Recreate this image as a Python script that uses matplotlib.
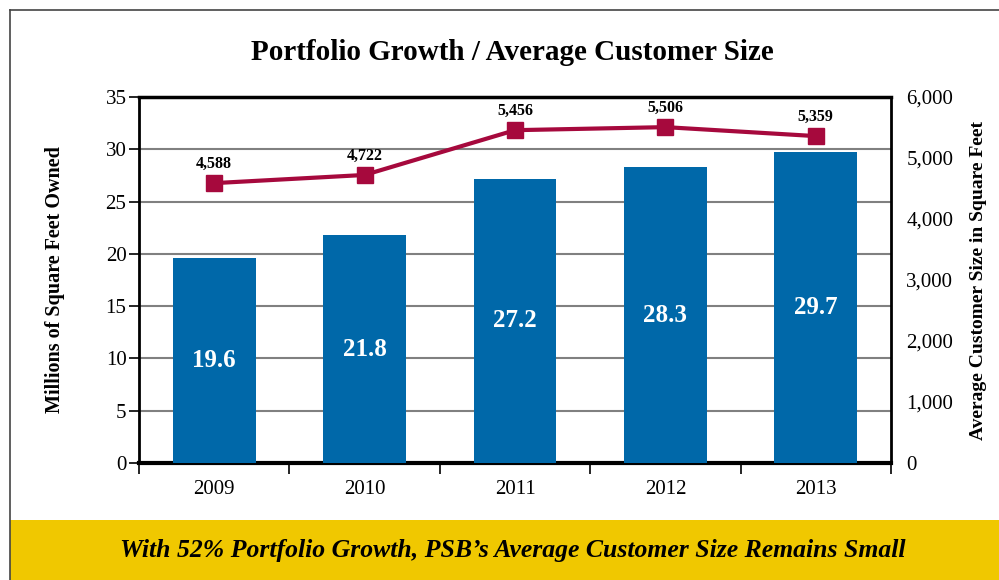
import matplotlib
matplotlib.use("Agg")
import matplotlib.pyplot as plt
from matplotlib.patches import Rectangle
from matplotlib.lines import Line2D

years = ["2009", "2010", "2011", "2012", "2013"]
sqft_owned = [19.6, 21.8, 27.2, 28.3, 29.7]          # millions of sq ft
avg_customer = [4588, 4722, 5456, 5506, 5359]       # sq ft
left_ticks = [0, 5, 10, 15, 20, 25, 30, 35]
right_ticks = [0, 1000, 2000, 3000, 4000, 5000, 6000]

plt.rcParams['font.family'] = ['Liberation Serif', 'DejaVu Serif']

bar_col = '#0068a9'
line_col = '#a6093d'

fig = plt.figure(figsize=(9.99, 5.80), dpi=100)
W, H = 999.0, 580.0

# frame and banner
fig.add_artist(Line2D([10/W, 10/W], [0, 1 - 10/H], color='#444444', lw=1.2))
fig.add_artist(Line2D([10/W, 1], [1 - 10/H, 1 - 10/H], color='#444444', lw=1.2))
fig.add_artist(Rectangle((10/W, 0), 1 - 10/W, 60/H, color='#f0c800', lw=0))
fig.text(513/W, 30/H, "With 52% Portfolio Growth, PSB\u2019s Average Customer Size Remains Small",
         ha='center', va='center', fontsize=18.5, fontweight='bold', fontstyle='italic')
fig.text(512/W, 1 - 53/H, "Portfolio Growth / Average Customer Size",
         ha='center', va='center', fontsize=21, fontweight='bold')

ax = fig.add_axes([139/W, 117/H, 752/W, 366/H])
x = range(len(years))
bars = ax.bar(x, sqft_owned, width=0.55, color=bar_col, zorder=3)
for i, v in enumerate(sqft_owned):
    ax.text(i, v / 2, "%.1f" % v, ha='center', va='center', color='white',
            fontsize=18, fontweight='bold', zorder=4)

ax.set_xlim(-0.5, 4.5)
ax.set_ylim(0, 35)
ax.set_yticks(left_ticks)
ax.yaxis.grid(True, color='#808080', lw=1.5, zorder=0)
ax.set_xticks(list(x))
ax.set_xticklabels(years)
ax.set_xticks([i - 0.5 for i in range(len(years) + 1)], minor=True)
ax.tick_params(axis='x', which='major', length=0, pad=12, labelsize=15)
ax.tick_params(axis='x', which='minor', length=8, width=1.2, direction='out')
ax.tick_params(axis='y', length=7, width=1.2, direction='out', labelsize=15, pad=2,
               right=True)
ax.spines['bottom'].set_linewidth(3)
ax.spines['top'].set_linewidth(2.5)
ax.spines['left'].set_linewidth(2)
ax.spines['right'].set_linewidth(2)
ax.set_ylabel("Millions of Square Feet Owned", fontsize=14.5, fontweight='bold', labelpad=29)

ax2 = ax.twinx()
ax2.set_ylim(0, 6000)
ax2.set_yticks(right_ticks)
ax2.set_yticklabels(["{:,}".format(t) for t in right_ticks])
ax2.tick_params(axis='y', length=0, pad=11, labelsize=15)
ax2.plot(list(x), avg_customer, color=line_col, lw=3, marker='s', markersize=12, zorder=5)
for i, v in enumerate(avg_customer):
    ax2.annotate("{:,}".format(v), (i, v), xytext=(0, 14), textcoords='offset points',
                 ha='center', va='center', fontsize=11.5, fontweight='bold', zorder=10)
ax2.set_ylabel("Average Customer Size in Square Feet", fontsize=14, fontweight='bold',
               labelpad=12)
for s in ax2.spines.values():
    s.set_visible(False)

fig.savefig("out.png", dpi=100)
